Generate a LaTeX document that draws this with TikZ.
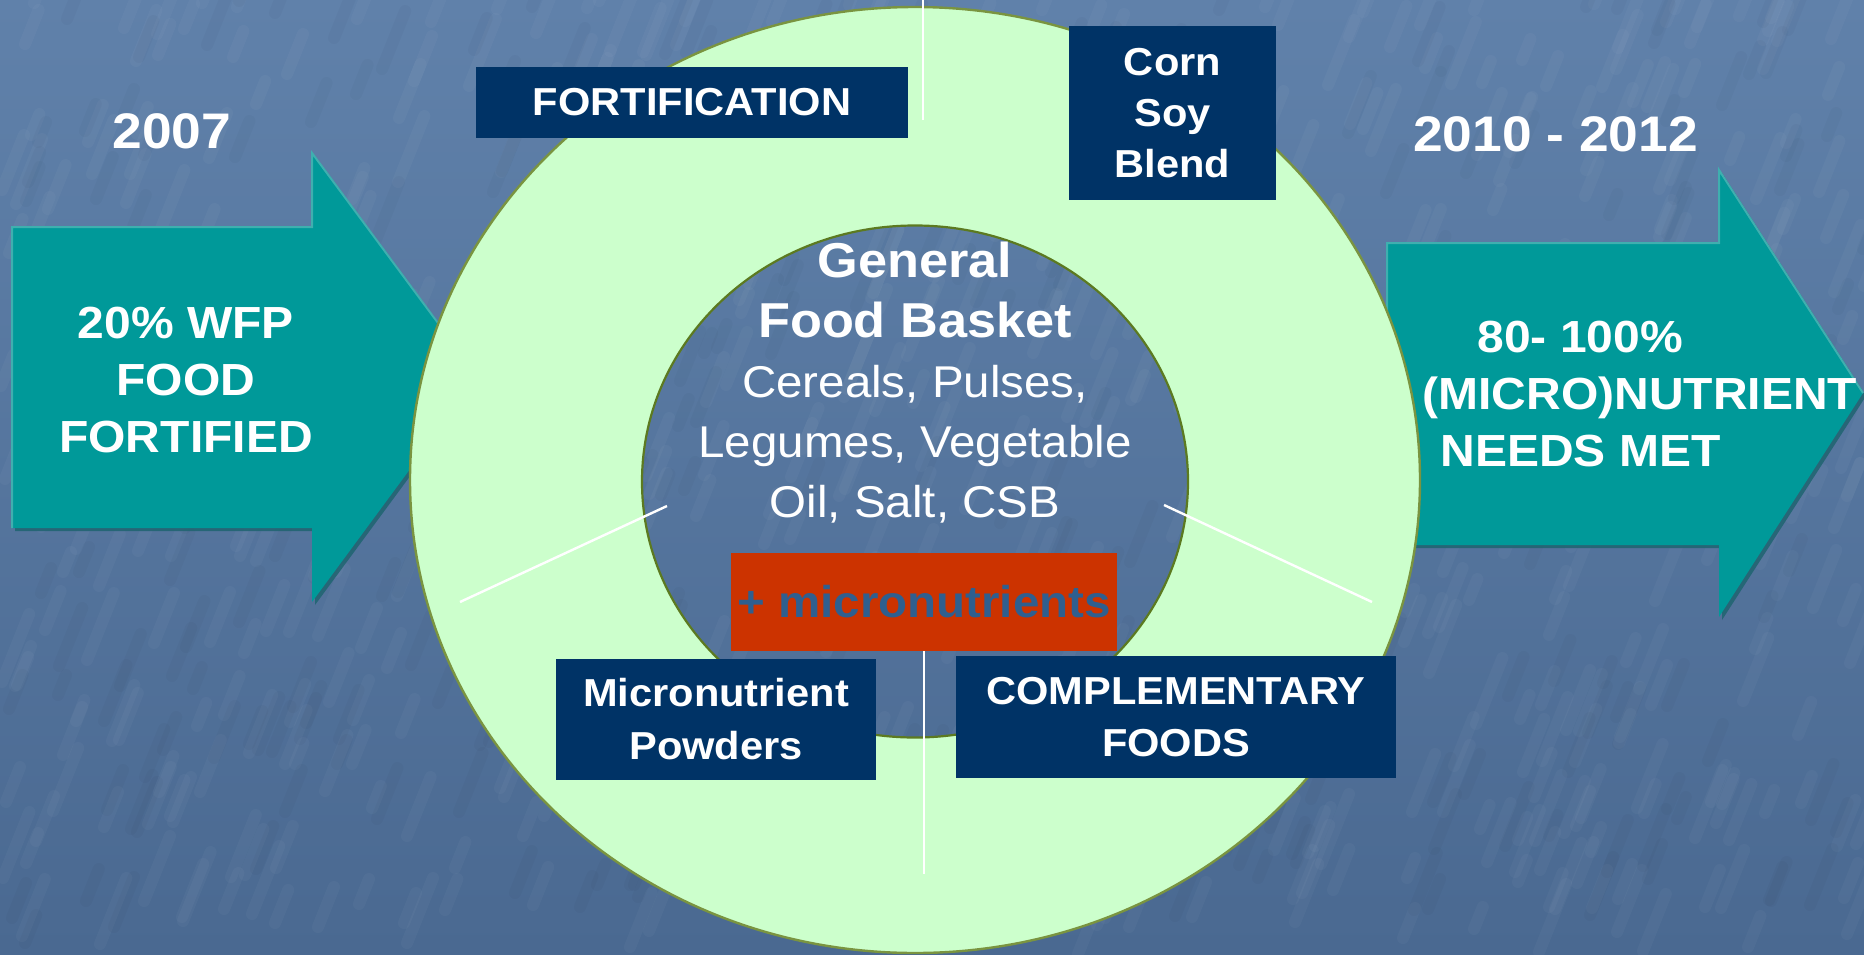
\documentclass[tikz,border=0pt]{standalone}
\usepackage{fontspec}
\setmainfont{Liberation Sans}[FakeStretch=1.067]
\definecolor{bgtop}{HTML}{6081AA}
\definecolor{bgbot}{HTML}{4A6991}
\definecolor{ringfill}{HTML}{CCFFCC}
\definecolor{ringedge}{HTML}{7A9440}
\definecolor{inneredge}{HTML}{5C7A20}
\definecolor{arrowteal}{HTML}{009999}
\definecolor{arrowshade}{HTML}{1F6470}
\definecolor{arrowlight}{HTML}{3FAFAF}
\definecolor{boxnavy}{HTML}{003366}
\definecolor{redboxfill}{HTML}{CC3300}
\definecolor{redboxtext}{HTML}{2F5F8F}
\newcommand{\gfbbold}[1]{{\bfseries\fontsize{24.5pt}{30pt}\selectfont #1}}
\begin{document}
\begin{tikzpicture}[x=0.5pt,y=-0.5pt,
  darkbox/.style={fill=boxnavy, text=white, inner sep=0pt, align=center,
    font=\bfseries\fontsize{19.5pt}{26pt}\selectfont},
  arrowtext/.style={text=white, inner sep=0pt,
    font=\bfseries\fontsize{22.5pt}{28.5pt}\selectfont},
  yeartext/.style={text=white, inner sep=0pt, anchor=base,
    font=\bfseries\fontsize{25pt}{30pt}\selectfont},
  divider/.style={draw=white, line width=1.2pt},
  bigarrow/.style={fill=arrowteal},
  arrowshadow/.style={fill=arrowshade, opacity=0.85},
  lightstreak/.style={draw=white, opacity=0.03, line width=6pt, line cap=round},
  darkstreak/.style={draw=black, opacity=0.025, line width=6pt, line cap=round}]
% background
\useasboundingbox (0,0) rectangle (1864,954);
\shade[top color=bgtop, bottom color=bgbot] (0,0) rectangle (1864,954);
\begin{scope}
\clip (0,0) rectangle (1864,954);
\pgfmathsetseed{7}
\foreach \i in {1,...,600}{
  \pgfmathsetmacro{\xx}{random(0,1864)}
  \pgfmathsetmacro{\yy}{random(0,954)}
  \pgfmathsetmacro{\ll}{random(20,70)}
  \draw[lightstreak] (\xx,\yy) -- ++(0.4*\ll,-\ll);
}
\foreach \i in {1,...,300}{
  \pgfmathsetmacro{\xx}{random(0,1864)}
  \pgfmathsetmacro{\yy}{random(0,954)}
  \pgfmathsetmacro{\ll}{random(20,60)}
  \draw[darkstreak] (\xx,\yy) -- ++(0.4*\ll,-\ll);
}
\end{scope}
% left arrow
\begin{scope}[shift={(3,3)}]
\fill[arrowshadow] (12,227) -- (312,227) -- (312,153) -- (478,377) -- (312,602) -- (312,528) -- (12,528) -- cycle;
\end{scope}
\fill[bigarrow] (12,227) -- (312,227) -- (312,153) -- (478,377) -- (312,602) -- (312,528) -- (12,528) -- cycle;
\draw[arrowlight, line width=1pt] (12,528) -- (12,227) -- (312,227) -- (312,153) -- (478,377);
% right arrow
\begin{scope}[shift={(3,3)}]
\fill[arrowshadow] (1387,243) -- (1719,243) -- (1719,170) -- (1863,393) -- (1719,617) -- (1719,545) -- (1387,545) -- cycle;
\end{scope}
\fill[bigarrow] (1387,243) -- (1719,243) -- (1719,170) -- (1863,393) -- (1719,617) -- (1719,545) -- (1387,545) -- cycle;
\draw[arrowlight, line width=1pt] (1387,545) -- (1387,243) -- (1719,243) -- (1719,170) -- (1863,393);
% ring
\fill[ringfill, even odd rule] (915,480) ellipse [x radius=252.5pt, y radius=236.5pt]
  (915,481.5) ellipse [x radius=136.5pt, y radius=128pt];
\draw[ringedge, line width=1.2pt] (915,480) ellipse [x radius=252.5pt, y radius=236.5pt];
\draw[inneredge, line width=1.1pt] (915,481.5) ellipse [x radius=136.5pt, y radius=128pt];
% boxes
\node[darkbox, minimum width=216pt, minimum height=35.5pt] (fort) at (692,102.5) {FORTIFICATION};
\node[darkbox, minimum width=103.5pt, minimum height=87pt, font=\bfseries\fontsize{19.5pt}{25.5pt}\selectfont] (csb) at (1172.5,113) {Corn\\Soy\\Blend};
\node[darkbox, minimum width=160pt, minimum height=60.5pt, font=\bfseries\fontsize{19.5pt}{26.5pt}\selectfont] (mnp) at (716,719.5) {Micronutrient\\Powders};
\node[darkbox, minimum width=220pt, minimum height=61pt] (comp) at (1176,717) {COMPLEMENTARY\\FOODS};
\node[fill=redboxfill, text=redboxtext, inner sep=0pt, minimum width=193pt, minimum height=49pt,
  font=\bfseries\fontsize{22.25pt}{28pt}\selectfont] (micro) at (924,602) {+ micronutrients};
% divider lines
\coordinate (topA) at (923,0);
\coordinate (topB) at (923,120);
\coordinate (botB) at (924,874);
\coordinate (leftA) at (667,506);
\coordinate (leftB) at (460,602);
\coordinate (rightA) at (1164,505);
\coordinate (rightB) at (1372,602);
\draw[divider] (topA) -- (topB);
\draw[divider] (micro.south) -- (botB);
\draw[divider] (leftA) -- (leftB);
\draw[divider] (rightA) -- (rightB);
% center text
\node[text=white, inner sep=0pt, anchor=north, align=center,
  font=\fontsize{22.25pt}{30pt}\selectfont] (gfb) at (915,242)
  {\gfbbold{General}\\\gfbbold{Food Basket}\\Cereals, Pulses,\\Legumes, Vegetable\\Oil, Salt, CSB};
% years
\node[yeartext] (y2007) at (172,148) {2007};
\node[yeartext] (y2010) at (1555.5,151) {2010 - 2012};
% arrow texts
\node[arrowtext, anchor=north, align=center] (ltext) at (186,307) {20\% WFP\\FOOD\\FORTIFIED};
\node[arrowtext, anchor=north west, align=left] (rtext) at (1422,321)
  {\hspace*{27.5pt}80- 100\%\\(MICRO)NUTRIENT\\\hspace*{9pt}NEEDS MET};
\end{tikzpicture}
\end{document}
